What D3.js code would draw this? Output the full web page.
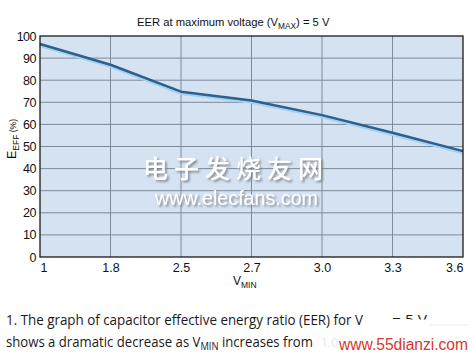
<!DOCTYPE html>
<html><head><meta charset="utf-8">
<script src="https://cdn.jsdelivr.net/npm/d3@7"></script>
<style>body{margin:0;background:#fff;} svg{display:block;}</style>
</head><body>
<svg id="c" width="473" height="356"></svg>
<script>
const categories = ["1","1.8","2.5","2.7","3.0","3.3","3.6"];
const eer = [96.4, 87.0, 74.8, 70.8, 64.2, 56.2, 47.9];
const yTicks = [0,10,20,30,40,50,60,70,80,90,100];

const svg = d3.select("#c");
const L = 40, R = 463, T = 36, B = 257;
const x = d3.scalePoint().domain(categories).range([L, R]);
const y = d3.scaleLinear().domain([0,100]).range([B, T]);
const F = "'Liberation Sans', Arial, sans-serif";

const defs = svg.append("defs");
const flt = defs.append("filter").attr("id","sh").attr("x","-10%").attr("y","-10%").attr("width","130%").attr("height","140%");
flt.append("feDropShadow").attr("dx",1.8).attr("dy",1.8).attr("stdDeviation",0.8).attr("flood-color","#7f868f").attr("flood-opacity",0.95);

// fit a text element horizontally to width w starting at x0
function fitX(sel, x0, w){
  const cur = sel.node().getBBox().width;
  const k = w / cur;
  sel.attr("transform", `translate(${x0},0) scale(${k},1) translate(${-x0},0)`);
}

// background
svg.append("rect").attr("x",L).attr("y",T).attr("width",R-L).attr("height",B-T).attr("fill","#d5e2f1");

// grid
svg.append("g").selectAll("line").data(yTicks.slice(1,-1)).join("line")
  .attr("x1",L).attr("x2",R).attr("y1",d=>y(d)).attr("y2",d=>y(d))
  .attr("stroke","#7f8a98").attr("stroke-width",1);
svg.append("g").selectAll("line").data(categories.slice(1,-1)).join("line")
  .attr("x1",d=>x(d)).attr("x2",d=>x(d)).attr("y1",T).attr("y2",B)
  .attr("stroke","#7f8a98").attr("stroke-width",1);

// watermark (elecfans)
const wm = svg.append("g").attr("filter","url(#sh)");
wm.append("text").attr("x",143).attr("y",178).attr("font-family","'Noto Sans CJK SC'")
  .attr("font-size",25).attr("font-weight",500).attr("fill","#ffffff")
  .attr("textLength",180).attr("lengthAdjust","spacing")
  .text("电子发烧友网");
wm.append("text").attr("x",155).attr("y",205).attr("font-family",F)
  .attr("font-size",21).attr("fill","#ffffff").attr("textLength",163).attr("lengthAdjust","spacingAndGlyphs")
  .text("www.elecfans.com");

// line
const line = d3.line().x((d,i)=>x(categories[i])).y(d=>y(d)).curve(d3.curveLinear);
svg.append("path").datum(eer).attr("d",line).attr("fill","none")
  .attr("stroke","#a6d2f2").attr("stroke-width",4).attr("stroke-linejoin","round").attr("transform","translate(0,1.2)");
svg.append("path").datum(eer).attr("d",line).attr("fill","none")
  .attr("stroke","#2f5f8c").attr("stroke-width",2.5).attr("stroke-linejoin","round");

// frame
svg.append("rect").attr("x",L).attr("y",T).attr("width",R-L).attr("height",B-T)
  .attr("fill","none").attr("stroke","#1a1a1a").attr("stroke-width",1.3);

// y axis ticks
const yAxis = d3.axisLeft(y).tickValues(yTicks).tickSize(0).tickPadding(4);
const gy = svg.append("g").attr("transform",`translate(${L},0)`).call(yAxis);
gy.select(".domain").remove();
gy.selectAll("text").attr("font-family",F).attr("font-size",12.5).attr("fill","#111").attr("letter-spacing",-0.5);

// x axis ticks
const xAxis = d3.axisBottom(x).tickSize(0).tickPadding(6);
const gx = svg.append("g").attr("transform",`translate(0,${B})`).call(xAxis);
gx.select(".domain").remove();
gx.selectAll("text").attr("font-family",F).attr("font-size",12.5).attr("fill","#111")
  .attr("text-anchor",(d,i)=> i===0 ? "start" : (i===categories.length-1 ? "end" : "middle"));

// x axis title
const xt = svg.append("text").attr("x",233).attr("y",285).attr("font-family",F).attr("font-size",12).attr("fill","#111");
xt.append("tspan").text("V");
xt.append("tspan").attr("font-size",8.5).attr("dy",3).text("MIN");

// y axis title
const yt = svg.append("text").attr("transform","translate(16,159) rotate(-90)").attr("font-family",F).attr("font-size",12.5).attr("fill","#111");
yt.append("tspan").text("E");
yt.append("tspan").attr("font-size",8.5).attr("dy",3).text("EFF");
yt.append("tspan").attr("font-size",8.5).attr("dy",-3).text(" (%)");

// chart title
const tt = svg.append("text").attr("x",137).attr("y",26).attr("font-family",F).attr("font-size",11.5).attr("fill","#111");
tt.append("tspan").text("EER at maximum voltage (V");
tt.append("tspan").attr("font-size",8.5).attr("dy",3).text("MAX");
tt.append("tspan").attr("dy",-3).text(") = 5 V");
fitX(tt, 137, 193);

// caption
const CF = "'Open Sans', 'Liberation Sans', sans-serif";
svg.append("text").attr("x",6).attr("y",325).attr("font-family",CF).attr("font-size",14).attr("fill","#1a1a1a")
  .attr("textLength",357).attr("lengthAdjust","spacingAndGlyphs")
  .text("1. The graph of capacitor effective energy ratio (EER) for V");
svg.append("text").attr("x",392).attr("y",325).attr("font-family",CF).attr("font-size",14).attr("fill","#1a1a1a")
  .attr("textLength",35).attr("lengthAdjust","spacingAndGlyphs").text("= 5 V");
const c2 = svg.append("text").attr("x",6).attr("y",347).attr("font-family",CF).attr("font-size",14).attr("fill","#1a1a1a");
c2.append("tspan").text("shows a dramatic decrease as V");
c2.append("tspan").attr("font-size",10).attr("dy",3).text("MIN");
c2.append("tspan").attr("dy",-3).text(" increases from");
fitX(c2, 6, 307);
svg.append("text").attr("x",321).attr("y",347).attr("font-family",CF).attr("font-size",12).attr("fill","#e8e8e8").text("1.0");

// white box covering
svg.append("rect").attr("x",366).attr("y",319.5).attr("width",104).attr("height",36).attr("fill","#fff");
svg.append("line").attr("x1",430).attr("x2",468).attr("y1",325).attr("y2",325).attr("stroke","#ececec");
svg.append("text").attr("x",339).attr("y",350).attr("font-family",F).attr("font-size",16).attr("fill","#d9362f")
  .attr("textLength",129).attr("lengthAdjust","spacingAndGlyphs").text("www.55dianzi.com");
</script>
</body></html>
